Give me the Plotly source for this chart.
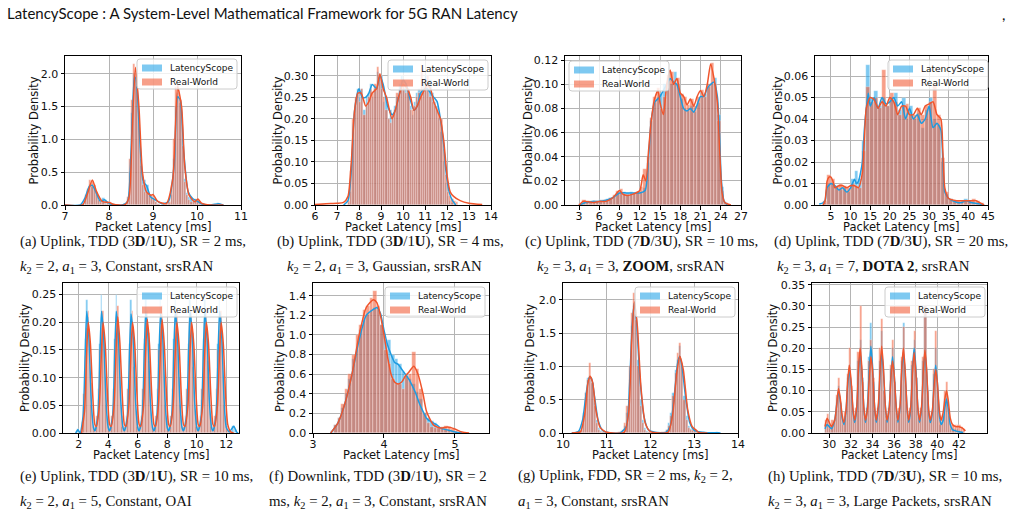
import plotly.graph_objects as go

W, H = 1012, 517

# ---------------- data ----------------
# (a)
A_BIN_START, A_BIN_W = 7.40, 0.05
A_LS = [0.02,0.1,0.22,0.3,0.28,0.25,0.15,0.08,0.05,0.1,
        0.07,0.03,0.02,0.0,0,0,0,0,0,0.01,
        0.08,0.5,1.4,2.0,1.9,1.3,0.6,0.35,0.38,0.3,
        0.15,0.12,0.08,0.04,0.02,0,0,0,0.01,0.02,
        0.15,0.7,1.5,1.7,1.55,1.0,0.4,0.18,0.12,0.1,
        0.06,0.07,0.04,0.02,0.01,0,0,0,0,0,
        0,0.03,0.01,0]
A_RW = [0.0,0.15,0.25,0.38,0.36,0.3,0.2,0.08,0.04,0.03,
        0.02,0.05,0.04,0.01,0,0,0,0,0,0.02,
        0.12,0.7,1.6,2.15,2.0,1.4,0.7,0.3,0.2,0.18,
        0.16,0.15,0.1,0.05,0.02,0,0,0,0.01,0.05,
        0.3,1.0,1.8,1.85,1.6,0.9,0.35,0.15,0.07,0.04,
        0.05,0.09,0.08,0.03,0.01,0,0,0,0,0,
        0,0,0.01,0]
A_LS_KX = [7.0,7.35,7.45,7.55,7.62,7.7,7.8,7.9,7.95,8.05,8.3,8.42,8.5,8.58,8.62,8.7,8.78,8.85,8.95,9.05,
           9.2,9.35,9.48,9.56,9.62,9.7,9.8,9.9,10.0,10.1,10.3,10.5,10.6]
A_LS_KY = [0,0,0.1,0.28,0.3,0.2,0.06,0.08,0.05,0.01,0,0.05,0.8,1.95,1.9,1.0,0.35,0.3,0.12,0.08,
           0.02,0.05,0.6,1.65,1.6,0.8,0.2,0.1,0.06,0.02,0,0.02,0]
A_RW_KX = [7.0,7.4,7.5,7.62,7.72,7.85,8.0,8.1,8.35,8.45,8.53,8.6,8.68,8.76,8.85,8.95,9.0,9.1,9.3,9.45,
           9.56,9.65,9.72,9.82,9.95,10.02,10.1,10.3,10.6]
A_RW_KY = [0,0,0.15,0.38,0.2,0.05,0.04,0.01,0,0.1,1.2,2.1,1.5,0.5,0.2,0.15,0.16,0.06,0.02,0.4,
           1.8,1.5,0.6,0.15,0.05,0.09,0.03,0,0]
A_XTICKS = [7, 8, 9, 10, 11]
A_YTICKS = [0.0, 0.5, 1.0, 1.5, 2.0]

# (b)
B_BIN_START, B_BIN_W = 7.5, 0.1
B_LS = [0.005,0.03,0.15,0.24,0.27,0.25,0.27,0.22,0.25,0.26,
        0.28,0.25,0.27,0.31,0.29,0.3,0.24,0.25,0.2,0.22,
        0.21,0.23,0.25,0.28,0.3,0.27,0.28,0.26,0.23,0.21,
        0.24,0.26,0.27,0.25,0.28,0.3,0.27,0.29,0.26,0.24,
        0.23,0.2,0.17,0.1,0.05,0.02,0.01,0.005,0,0]
B_RW = [0.01,0.08,0.2,0.25,0.26,0.24,0.27,0.21,0.23,0.25,
        0.27,0.26,0.28,0.32,0.3,0.27,0.25,0.22,0.2,0.19,
        0.21,0.22,0.26,0.27,0.29,0.28,0.26,0.27,0.22,0.22,
        0.23,0.25,0.26,0.31,0.27,0.29,0.3,0.25,0.24,0.23,
        0.22,0.21,0.2,0.13,0.07,0.03,0.02,0.015,0.01,0.008]
B_LS_KX = [7.3,7.5,7.65,7.8,8.0,8.15,8.3,8.45,8.6,8.8,8.95,9.1,9.3,9.5,9.65,9.8,10.0,10.15,10.3,10.5,
           10.65,10.8,11.0,11.1,11.25,11.4,11.55,11.7,11.85,11.95,12.1,12.25,12.4]
B_LS_KY = [0,0.01,0.08,0.22,0.27,0.25,0.25,0.26,0.28,0.27,0.3,0.28,0.23,0.21,0.22,0.25,0.29,0.28,0.25,0.22,
           0.23,0.26,0.27,0.27,0.26,0.25,0.24,0.2,0.14,0.08,0.03,0.01,0.0]
B_RW_KX = [6.0,6.5,7.0,7.3,7.5,7.65,7.8,7.95,8.1,8.3,8.45,8.6,8.8,8.95,9.1,9.25,9.5,9.65,9.8,10.0,
           10.2,10.35,10.5,10.65,10.8,11.0,11.1,11.25,11.4,11.55,11.7,11.85,12.0,12.15,12.3,12.6,13.0,13.6]
B_RW_KY = [0.001,0.003,0.004,0.006,0.02,0.1,0.22,0.26,0.26,0.23,0.24,0.26,0.27,0.305,0.27,0.25,0.2,0.22,0.25,0.28,
           0.27,0.25,0.22,0.23,0.25,0.27,0.28,0.27,0.24,0.22,0.2,0.15,0.07,0.03,0.02,0.01,0.004,0.001]
B_XTICKS = [6, 7, 8, 9, 10, 11, 12, 13, 14]
B_YTICKS = [0.0, 0.05, 0.10, 0.15, 0.20, 0.25, 0.30]

# (c)
C_BIN_START, C_BIN_W = 3.0, 0.5
C_LS = [0.001,0.002,0.003,0.003,0.002,0.003,0.004,0.004,0.005,0.006,
        0.007,0.01,0.01,0.011,0.01,0.011,0.01,0.011,0.01,0.014,
        0.035,0.07,0.085,0.09,0.092,0.1,0.105,0.1,0.11,0.1,
        0.088,0.08,0.078,0.082,0.077,0.085,0.09,0.092,0.098,0.1,
        0.105,0.075,0.015,0.002]
C_RW = [0.001,0.004,0.003,0.002,0.003,0.003,0.003,0.004,0.004,0.006,
        0.008,0.012,0.013,0.009,0.008,0.009,0.01,0.011,0.015,0.03,
        0.04,0.072,0.09,0.097,0.08,0.09,0.108,0.11,0.1,0.105,
        0.092,0.09,0.083,0.088,0.082,0.09,0.095,0.09,0.1,0.118,
        0.1,0.07,0.012,0.002]
C_LS_KX = [3.0,4.0,5.0,6.0,7.0,8.0,9.0,10.0,11.0,12.0,12.8,13.3,13.7,14.2,15.0,15.5,16.0,16.5,17.0,17.5,
           18.0,18.5,19.0,19.5,20.0,20.5,21.0,21.5,22.0,22.5,23.0,23.5,23.8,24.1,24.5,25.0]
C_LS_KY = [0,0.002,0.003,0.003,0.004,0.006,0.01,0.01,0.01,0.01,0.012,0.04,0.07,0.085,0.09,0.095,0.1,0.105,0.102,0.1,
           0.09,0.08,0.078,0.08,0.077,0.083,0.09,0.09,0.097,0.1,0.102,0.09,0.06,0.02,0.003,0]
C_RW_KX = [3.0,3.6,4.0,5.0,6.0,7.0,8.0,9.0,9.5,10.0,11.0,12.0,12.5,12.9,13.3,13.7,14.2,14.7,15.0,15.5,
           16.0,16.5,17.0,17.5,18.0,18.5,19.0,19.5,20.0,20.5,21.0,21.5,22.0,22.5,23.0,23.5,23.8,24.2,24.6,25.5]
C_RW_KY = [0,0.003,0.003,0.002,0.003,0.003,0.006,0.012,0.009,0.008,0.009,0.012,0.025,0.02,0.045,0.07,0.088,0.095,0.085,0.075,
           0.1,0.112,0.1,0.105,0.093,0.09,0.083,0.088,0.082,0.09,0.095,0.09,0.1,0.117,0.105,0.085,0.05,0.01,0.002,0]
C_XTICKS = [3, 6, 9, 12, 15, 18, 21, 24, 27]
C_YTICKS = [0.0, 0.02, 0.04, 0.06, 0.08, 0.10, 0.12]

# (d)
D_BIN_START, D_BIN_W = 3.0, 1.0
D_LS = [0.001,0.01,0.01,0.009,0.007,0.008,0.006,0.012,0.016,0.012,
        0.03,0.065,0.05,0.053,0.046,0.05,0.046,0.05,0.052,0.044,
        0.05,0.04,0.046,0.04,0.043,0.036,0.044,0.05,0.04,0.037,
        0.02,0.005,0.003,0.002,0.001,0.001,0.003,0.002,0.001,0.001,
        0.0005]
D_RW = [0.002,0.014,0.012,0.009,0.01,0.009,0.008,0.01,0.009,0.008,
        0.025,0.055,0.048,0.05,0.045,0.063,0.046,0.052,0.048,0.042,
        0.046,0.047,0.042,0.042,0.045,0.042,0.046,0.048,0.056,0.042,
        0.022,0.006,0.003,0.002,0.002,0.002,0.002,0.002,0.003,0.002,
        0.001]
D_LS_KX = [2.0,3.0,3.5,4.0,5.0,6.0,7.0,8.0,9.0,10.0,11.0,11.5,12.0,13.0,13.5,14.0,14.5,15.0,16.0,17.0,
           18.0,19.0,20.0,21.0,22.0,23.0,24.0,25.0,26.0,27.0,28.0,29.0,30.0,31.0,32.0,33.0,33.5,34.0,35.0,36.0,
           38.0,39.5,41.0,43.0,44.0]
D_LS_KY = [0.0005,0.001,0.002,0.008,0.01,0.009,0.007,0.008,0.006,0.008,0.012,0.01,0.011,0.02,0.035,0.045,0.052,0.046,0.05,0.045,
           0.05,0.047,0.048,0.05,0.046,0.048,0.04,0.045,0.04,0.042,0.038,0.04,0.046,0.036,0.038,0.035,0.02,0.006,0.003,0.002,
           0.001,0.002,0.001,0.0005,0]
D_RW_KX = [3.0,3.5,4.0,4.5,5.0,5.5,6.0,7.0,8.0,9.0,10.0,11.0,12.0,13.0,13.5,14.0,15.0,16.0,17.0,18.0,
           19.0,20.0,21.0,22.0,23.0,24.0,25.0,26.0,27.0,28.0,29.0,30.0,31.0,32.0,33.0,33.5,34.0,35.0,37.0,39.0,
           41.0,42.0,43.0,44.0]
D_RW_KY = [0.0,0.002,0.011,0.013,0.013,0.011,0.008,0.009,0.009,0.008,0.009,0.009,0.008,0.015,0.03,0.045,0.05,0.049,0.045,0.048,
           0.046,0.05,0.048,0.042,0.046,0.046,0.042,0.042,0.045,0.042,0.046,0.047,0.048,0.042,0.04,0.025,0.008,0.003,0.002,0.002,
           0.002,0.002,0.001,0]
D_XTICKS = [5, 10, 15, 20, 25, 30, 35, 40, 45]
D_YTICKS = [0.0, 0.01, 0.02, 0.03, 0.04, 0.05, 0.06]

# (e)
E_BIN_START, E_BIN_W = 1.9, 0.1
E_LS = [0.008,
        0.002,0.0,0.01,0.05,0.17,0.24,0.21,0.12,0.05,0.01,
        0.004,0.002,0.01,0.06,0.16,0.25,0.2,0.13,0.05,0.01,
        0.003,0.002,0.01,0.05,0.17,0.25,0.19,0.12,0.06,0.01,
        0.004,0.001,0.01,0.05,0.16,0.24,0.2,0.12,0.05,0.01,
        0.003,0.002,0.01,0.06,0.17,0.24,0.19,0.13,0.05,0.01,
        0.004,0.002,0.01,0.05,0.16,0.24,0.2,0.12,0.05,0.01,
        0.003,0.002,0.01,0.05,0.17,0.25,0.2,0.12,0.05,0.01,
        0.004,0.002,0.01,0.05,0.16,0.24,0.21,0.12,0.05,0.01,
        0.003,0.002,0.01,0.06,0.17,0.24,0.2,0.13,0.05,0.01,
        0.004,0.002,0.01,0.05,0.16,0.24,0.21,0.12,0.05,0.01,
        0.003,0.001,0.002,0.004,0.012,0.013,0.005]
E_RW = [0.0,
        0.0,0.0,0.02,0.07,0.14,0.19,0.22,0.17,0.09,0.03,
        0.012,0.01,0.03,0.08,0.15,0.2,0.22,0.18,0.1,0.03,
        0.012,0.012,0.03,0.08,0.15,0.21,0.23,0.18,0.1,0.03,
        0.012,0.01,0.03,0.08,0.15,0.2,0.22,0.17,0.1,0.03,
        0.012,0.012,0.03,0.08,0.16,0.2,0.22,0.18,0.1,0.03,
        0.012,0.01,0.03,0.08,0.15,0.2,0.23,0.18,0.1,0.03,
        0.012,0.012,0.03,0.08,0.15,0.21,0.22,0.17,0.1,0.03,
        0.012,0.01,0.03,0.08,0.15,0.2,0.22,0.18,0.1,0.03,
        0.012,0.012,0.03,0.08,0.15,0.2,0.22,0.17,0.1,0.03,
        0.012,0.01,0.03,0.08,0.15,0.2,0.22,0.18,0.1,0.03,
        0.012,0.005,0.002,0,0,0,0]
E_LS_KX = [1.8,1.95,2.1,2.3,2.45,2.55,2.7,2.85,3.0,3.1,
           3.3,3.45,3.55,3.7,3.85,4.0,4.1,
           4.3,4.45,4.55,4.7,4.85,5.0,5.1,
           5.3,5.45,5.55,5.7,5.85,6.0,6.1,
           6.3,6.45,6.55,6.7,6.85,7.0,7.1,
           7.3,7.45,7.55,7.7,7.85,8.0,8.1,
           8.3,8.45,8.55,8.7,8.85,9.0,9.1,
           9.3,9.45,9.55,9.7,9.85,10.0,10.1,
           10.3,10.45,10.55,10.7,10.85,11.0,11.1,
           11.3,11.45,11.55,11.7,11.85,12.0,12.2,12.5,12.7,12.8]
E_LS_KY = [0,0.006,0.0,0.03,0.15,0.22,0.17,0.06,0.01,0.004,
           0.03,0.15,0.22,0.17,0.06,0.01,0.004,
           0.03,0.15,0.22,0.17,0.06,0.01,0.004,
           0.03,0.15,0.215,0.17,0.06,0.01,0.004,
           0.03,0.15,0.22,0.17,0.06,0.01,0.004,
           0.03,0.15,0.215,0.17,0.06,0.01,0.004,
           0.03,0.15,0.22,0.17,0.06,0.01,0.004,
           0.03,0.15,0.22,0.17,0.06,0.01,0.004,
           0.03,0.15,0.22,0.17,0.06,0.01,0.004,
           0.03,0.15,0.22,0.17,0.06,0.01,0.002,0.012,0.002,0]
E_RW_KX = [2.2,2.4,2.55,2.65,2.8,2.95,3.1,3.2,
           3.4,3.55,3.65,3.8,3.95,4.1,4.2,
           4.4,4.55,4.65,4.8,4.95,5.1,5.2,
           5.4,5.55,5.65,5.8,5.95,6.1,6.2,
           6.4,6.55,6.65,6.8,6.95,7.1,7.2,
           7.4,7.55,7.65,7.8,7.95,8.1,8.2,
           8.4,8.55,8.65,8.8,8.95,9.1,9.2,
           9.4,9.55,9.65,9.8,9.95,10.1,10.2,
           10.4,10.55,10.65,10.8,10.95,11.1,11.2,
           11.4,11.55,11.65,11.8,11.95,12.1,12.3,12.5]
E_RW_KY = [0,0.04,0.15,0.2,0.16,0.07,0.015,0.012,
           0.05,0.15,0.2,0.16,0.07,0.015,0.012,
           0.05,0.16,0.21,0.16,0.07,0.015,0.012,
           0.05,0.15,0.2,0.16,0.07,0.015,0.012,
           0.05,0.155,0.205,0.16,0.07,0.015,0.012,
           0.05,0.155,0.205,0.16,0.07,0.015,0.012,
           0.05,0.15,0.2,0.16,0.07,0.015,0.012,
           0.05,0.15,0.2,0.16,0.07,0.015,0.012,
           0.05,0.15,0.2,0.16,0.07,0.015,0.012,
           0.05,0.15,0.2,0.16,0.07,0.015,0.002,0]
E_XTICKS = [2, 4, 6, 8, 10, 12]
E_YTICKS = [0.0, 0.05, 0.10, 0.15, 0.20, 0.25]

# (f)
F_BIN_START, F_BIN_W = 3.25, 0.05
F_LS = [0.02,0.08,0.15,0.25,0.4,0.55,0.75,0.85,1.05,1.15,
        1.2,1.25,1.27,1.25,1.1,0.95,0.95,0.8,0.75,0.7,
        0.62,0.6,0.55,0.5,0.42,0.35,0.2,0.15,0.12,0.1,
        0.05,0.04,0.03,0.02,0.01,0.005,0.0]
F_RW = [0.0,0.08,0.15,0.3,0.45,0.6,0.8,1.0,1.1,1.25,
        1.3,1.38,1.45,1.3,1.1,0.85,0.7,0.55,0.5,0.5,
        0.45,0.58,0.6,0.83,0.65,0.45,0.2,0.1,0.06,0.05,
        0.05,0.06,0.07,0.06,0.04,0.02,0.01]
F_LS_KX = [3.25,3.35,3.45,3.55,3.65,3.75,3.85,3.9,3.95,4.0,4.05,4.1,4.15,4.2,4.25,4.3,4.35,4.4,4.45,4.5,
           4.55,4.6,4.65,4.7,4.75,4.8,4.9,5.0,5.1]
F_LS_KY = [0,0.1,0.3,0.6,0.95,1.2,1.26,1.28,1.22,1.05,0.9,0.8,0.72,0.7,0.65,0.6,0.55,0.48,0.4,0.3,
           0.22,0.15,0.12,0.1,0.08,0.05,0.03,0.01,0]
F_RW_KX = [3.25,3.35,3.45,3.55,3.65,3.75,3.85,3.9,3.95,4.0,4.05,4.1,4.15,4.2,4.25,4.3,4.35,4.42,4.48,4.55,
           4.6,4.7,4.8,4.9,5.0,5.1,5.2]
F_RW_KY = [0,0.1,0.3,0.6,1.0,1.28,1.36,1.33,1.2,1.0,0.78,0.6,0.52,0.5,0.52,0.58,0.62,0.68,0.6,0.4,
           0.22,0.08,0.05,0.06,0.04,0.01,0]
F_XTICKS = [3, 4, 5]
F_YTICKS = [0.0, 0.2, 0.4, 0.6, 0.8, 1.0, 1.2, 1.4]

# (g)
G_BIN_START, G_BIN_W = 10.2, 0.05
G_LS = [0,0,0.01,0.03,0.1,0.3,0.6,0.83,0.85,0.75,0.45,0.2,0.08,0.03,0.01,0.005,
        0,0,0,0,0,0,0.01,0.03,0.1,0.3,0.8,1.6,1.9,1.75,1.1,0.5,0.2,0.07,0.03,0.01,
        0,0,0,0,0,0.005,0.01,0.05,0.15,0.3,0.6,0.95,1.1,1.3,1.05,0.55,0.25,0.1,0.06,0.03,
        0.02,0.01,0.005,0.003,0.01,0,0,0,0,0,0.01,0]
G_RW = [0,0,0,0.01,0.05,0.25,0.6,0.8,1.05,0.75,0.4,0.15,0.05,0.02,0.01,0,
        0,0,0,0,0,0.01,0.02,0.05,0.15,0.4,1.0,1.8,2.1,1.7,1.0,0.4,0.15,0.05,0.02,0.01,
        0,0,0,0,0,0.01,0.02,0.05,0.1,0.25,0.55,0.9,1.2,1.35,1.0,0.5,0.2,0.08,0.05,0.04,
        0.03,0.01,0,0,0,0,0,0,0,0,0,0]
G_LS_KX = [10.2,10.35,10.45,10.52,10.6,10.65,10.72,10.8,10.9,11.0,11.3,11.45,11.52,11.58,11.63,11.68,11.75,11.85,11.95,12.1,
           12.35,12.45,12.55,12.62,12.67,12.72,12.8,12.9,13.0,13.1,13.3,13.55,13.6]
G_LS_KY = [0,0.02,0.2,0.55,0.83,0.82,0.55,0.2,0.04,0.01,0,0.1,0.7,1.6,1.95,1.7,0.9,0.25,0.05,0.01,
           0.01,0.1,0.6,1.05,1.15,1.0,0.55,0.15,0.04,0.02,0.005,0.003,0]
G_RW_KX = [10.2,10.4,10.5,10.57,10.62,10.68,10.75,10.85,11.0,11.4,11.5,11.57,11.63,11.7,11.78,11.88,12.0,12.4,12.5,12.6,
           12.67,12.75,12.85,12.95,13.05,13.1,13.3]
G_RW_KY = [0,0.02,0.3,0.75,0.85,0.75,0.35,0.08,0.01,0.01,0.3,1.4,1.97,1.6,0.7,0.15,0.02,0.01,0.25,0.9,
           1.15,0.95,0.35,0.1,0.04,0.01,0]
G_XTICKS = [10, 11, 12, 13, 14]
G_YTICKS = [0.0, 0.5, 1.0, 1.5, 2.0]

# (h)
H_BIN_START, H_BIN_W = 29.6, 0.2
H_LS = [0.02,0.03,
        0.01,0.02,0.03,0.07,0.11,
        0.06,0.02,0.04,0.13,0.16,
        0.1,0.03,0.05,0.17,0.22,
        0.13,0.03,0.05,0.18,0.26,
        0.12,0.03,0.05,0.17,0.24,
        0.1,0.03,0.05,0.15,0.2,
        0.12,0.03,0.05,0.17,0.26,
        0.1,0.03,0.05,0.16,0.22,
        0.13,0.03,0.05,0.17,0.3,
        0.1,0.03,0.04,0.14,0.2,
        0.09,0.02,0.03,0.08,0.1,
        0.04,0.01,0.01,0.01,0.01,
        0.005,0.003,0.0]
H_RW = [0.03,0.045,
        0.02,0.03,0.03,0.09,0.13,
        0.07,0.03,0.05,0.14,0.2,
        0.11,0.04,0.06,0.19,0.3,
        0.12,0.04,0.06,0.17,0.22,
        0.13,0.04,0.06,0.2,0.27,
        0.1,0.04,0.06,0.16,0.22,
        0.12,0.04,0.06,0.18,0.25,
        0.1,0.04,0.06,0.17,0.24,
        0.13,0.04,0.06,0.18,0.3,
        0.1,0.04,0.05,0.15,0.24,
        0.09,0.03,0.04,0.1,0.12,
        0.05,0.02,0.02,0.02,0.02,
        0.02,0.015,0.01]
H_LS_KX = [29.6,29.8,30.0,30.2,30.5,30.7,30.85,31.0,31.2,
           31.35,31.55,31.7,31.85,32.0,32.2,
           32.35,32.55,32.7,32.85,33.0,33.2,
           33.35,33.55,33.7,33.85,34.0,34.2,
           34.35,34.55,34.7,34.85,35.0,35.2,
           35.35,35.55,35.7,35.85,36.0,36.2,
           36.35,36.55,36.7,36.85,37.0,37.2,
           37.35,37.55,37.7,37.85,38.0,38.2,
           38.35,38.55,38.7,38.85,39.0,39.2,
           39.35,39.55,39.7,39.85,40.0,40.2,
           40.35,40.55,40.7,40.85,41.0,41.2,41.4,41.7,42.0,42.4]
H_LS_KY = [0.01,0.02,0.015,0.01,0.03,0.07,0.1,0.08,0.035,
           0.02,0.05,0.11,0.15,0.12,0.05,
           0.025,0.06,0.14,0.19,0.15,0.06,
           0.025,0.07,0.15,0.205,0.16,0.06,
           0.025,0.06,0.14,0.19,0.15,0.06,
           0.025,0.06,0.13,0.18,0.14,0.06,
           0.025,0.06,0.14,0.19,0.15,0.06,
           0.025,0.06,0.15,0.2,0.16,0.06,
           0.025,0.06,0.14,0.19,0.15,0.05,
           0.025,0.05,0.12,0.16,0.12,0.04,
           0.02,0.03,0.06,0.08,0.06,0.02,0.008,0.005,0.003,0.001]
H_RW_KX = [29.6,29.8,30.0,30.2,30.5,30.7,30.85,31.0,31.2,
           31.35,31.55,31.7,31.85,32.0,32.2,
           32.35,32.55,32.7,32.85,33.0,33.2,
           33.35,33.55,33.7,33.85,34.0,34.2,
           34.35,34.55,34.7,34.85,35.0,35.2,
           35.35,35.55,35.7,35.85,36.0,36.2,
           36.35,36.55,36.7,36.85,37.0,37.2,
           37.35,37.55,37.7,37.85,38.0,38.2,
           38.35,38.55,38.7,38.85,39.0,39.2,
           39.35,39.55,39.7,39.85,40.0,40.2,
           40.35,40.55,40.7,40.85,41.0,41.2,41.4,41.7,42.0,42.3,42.6]
H_RW_KY = [0.015,0.035,0.025,0.015,0.03,0.07,0.105,0.085,0.04,
           0.025,0.055,0.12,0.16,0.13,0.055,
           0.03,0.065,0.15,0.2,0.16,0.06,
           0.03,0.06,0.13,0.18,0.15,0.06,
           0.03,0.07,0.15,0.205,0.16,0.06,
           0.03,0.06,0.13,0.17,0.14,0.06,
           0.03,0.065,0.15,0.2,0.16,0.06,
           0.03,0.065,0.14,0.19,0.15,0.06,
           0.03,0.065,0.145,0.195,0.155,0.055,
           0.03,0.055,0.11,0.15,0.12,0.05,
           0.03,0.05,0.08,0.1,0.08,0.035,0.02,0.015,0.015,0.012,0.005]
H_XTICKS = [30, 32, 34, 36, 38, 40, 42]
H_YTICKS = [0.0, 0.05, 0.10, 0.15, 0.20, 0.25, 0.30, 0.35]

SERIES = ["LatencyScope", "Real-World"]
CAPTIONS = [
    ("(a) Uplink, TDD (3<b>D</b>/1<b>U</b>), SR = 2 ms,", "<i>k</i><sub>2</sub> = 2, <i>a</i><sub>1</sub> = 3, Constant, srsRAN"),
    ("(b) Uplink, TDD (3<b>D</b>/1<b>U</b>), SR = 4 ms,", "<i>k</i><sub>2</sub> = 2, <i>a</i><sub>1</sub> = 3, Gaussian, srsRAN"),
    ("(c) Uplink, TDD (7<b>D</b>/3<b>U</b>), SR = 10 ms,", "<i>k</i><sub>2</sub> = 3, <i>a</i><sub>1</sub> = 3, <b>ZOOM</b>, srsRAN"),
    ("(d) Uplink, TDD (7<b>D</b>/3<b>U</b>), SR = 20 ms,", "<i>k</i><sub>2</sub> = 3, <i>a</i><sub>1</sub> = 7, <b>DOTA 2</b>, srsRAN"),
    ("(e) Uplink, TDD (3<b>D</b>/1<b>U</b>), SR = 10 ms,", "<i>k</i><sub>2</sub> = 2, <i>a</i><sub>1</sub> = 5, Constant, OAI"),
    ("(f) Downlink, TDD (3<b>D</b>/1<b>U</b>), SR = 2", "ms, <i>k</i><sub>2</sub> = 2, <i>a</i><sub>1</sub> = 3, Constant, srsRAN"),
    ("(g) Uplink, FDD, SR = 2 ms, <i>k</i><sub>2</sub> = 2,", "<i>a</i><sub>1</sub> = 3, Constant, srsRAN"),
    ("(h) Uplink, TDD (7<b>D</b>/3<b>U</b>), SR = 10 ms,", "<i>k</i><sub>2</sub> = 3, <i>a</i><sub>1</sub> = 3, Large Packets, srsRAN"),
]
HEADER = "LatencyScope : A System-Level Mathematical Framework for 5G RAN Latency"
XTITLE = "Packet Latency [ms]"
YTITLE = "Probability Density"

# ---------------- layout (pixels) ----------------
def px(x): return x / W
def py(y): return 1 - y / H

panels = [
    dict(box=(65, 241, 56, 205), xr=[7, 11], yr=[0, 2.27], xt=A_XTICKS, yt=A_YTICKS, yf=".1f",
         bs=A_BIN_START, bw=A_BIN_W, ls=A_LS, rw=A_RW, lkx=A_LS_KX, lky=A_LS_KY, rkx=A_RW_KX, rky=A_RW_KY,
         leg=(137, 59), yt_x=33, cap=(18, 18)),
    dict(box=(315, 491, 56, 205), xr=[6, 14], yr=[0, 0.346], xt=B_XTICKS, yt=B_YTICKS, yf=".2f",
         bs=B_BIN_START, bw=B_BIN_W, ls=B_LS, rw=B_RW, lkx=B_LS_KX, lky=B_LS_KY, rkx=B_RW_KX, rky=B_RW_KY,
         leg=(388, 60), yt_x=277, cap=(275, 285)),
    dict(box=(565, 741, 56, 205), xr=[0.92, 27], yr=[0, 0.1236], xt=C_XTICKS, yt=C_YTICKS, yf=".2f",
         bs=C_BIN_START, bw=C_BIN_W, ls=C_LS, rw=C_RW, lkx=C_LS_KX, lky=C_LS_KY, rkx=C_RW_KX, rky=C_RW_KY,
         leg=(569, 61), yt_x=527, cap=(523, 535)),
    dict(box=(815, 988, 56, 205), xr=[0.93, 45], yr=[0, 0.0693], xt=D_XTICKS, yt=D_YTICKS, yf=".2f",
         bs=D_BIN_START, bw=D_BIN_W, ls=D_LS, rw=D_RW, lkx=D_LS_KX, lky=D_LS_KY, rkx=D_RW_KX, rky=D_RW_KY,
         leg=(888, 60), yt_x=777, cap=(772, 775)),
    dict(box=(63, 239, 283, 433), xr=[0.94, 12.86], yr=[0, 0.271], xt=E_XTICKS, yt=E_YTICKS, yf=".2f",
         bs=E_BIN_START, bw=E_BIN_W, ls=E_LS, rw=E_RW, lkx=E_LS_KX, lky=E_LS_KY, rkx=E_RW_KX, rky=E_RW_KY,
         leg=(137, 287), yt_x=25, cap=(18, 18)),
    dict(box=(313, 489, 283, 433), xr=[3, 5.48], yr=[0, 1.53], xt=F_XTICKS, yt=F_YTICKS, yf=".1f",
         bs=F_BIN_START, bw=F_BIN_W, ls=F_LS, rw=F_RW, lkx=F_LS_KX, lky=F_LS_KY, rkx=F_RW_KX, rky=F_RW_KY,
         leg=(385, 287), yt_x=280, cap=(267, 267)),
    dict(box=(563, 738, 283, 433), xr=[10, 14], yr=[0, 2.25], xt=G_XTICKS, yt=G_YTICKS, yf=".1f",
         bs=G_BIN_START, bw=G_BIN_W, ls=G_LS, rw=G_RW, lkx=G_LS_KX, lky=G_LS_KY, rkx=G_RW_KX, rky=G_RW_KY,
         leg=(635, 287), yt_x=530, cap=(516, 516)),
    dict(box=(812, 987, 283, 433), xr=[28.4, 44.6], yr=[0, 0.354], xt=H_XTICKS, yt=H_YTICKS, yf=".2f",
         bs=H_BIN_START, bw=H_BIN_W, ls=H_LS, rw=H_RW, lkx=H_LS_KX, lky=H_LS_KY, rkx=H_RW_KX, rky=H_RW_KY,
         leg=(885, 287), yt_x=773, cap=(766, 766)),
]

LS_FILL = "rgba(40,165,232,0.6)"
RW_FILL = "rgba(242,95,58,0.6)"
LS_LINE = "#1e9be0"
RW_LINE = "#f0552c"
EDGE = dict(color="rgba(255,255,255,0.55)", width=0.5)
TICKFONT = dict(family="DejaVu Sans", size=11, color="#111")
CAPFONT = dict(family="Liberation Serif", size=14.8, color="#111")

fig = go.Figure()
shapes, annos = [], []
layout = {}

for i, p in enumerate(panels):
    assert len(p["ls"]) == len(p["rw"]), i
    assert len(p["lkx"]) == len(p["lky"]) and len(p["rkx"]) == len(p["rky"]), i
    xa = "x" if i == 0 else f"x{i+1}"
    ya = "y" if i == 0 else f"y{i+1}"
    l, r, t, b = p["box"]
    centers = [p["bs"] + p["bw"] * (k + 0.5) for k in range(len(p["ls"]))]
    fig.add_trace(go.Bar(x=centers, y=p["ls"], width=p["bw"], marker=dict(color=LS_FILL, line=EDGE),
                         xaxis=xa, yaxis=ya, showlegend=False, name=SERIES[0]))
    fig.add_trace(go.Bar(x=centers, y=p["rw"], width=p["bw"], marker=dict(color=RW_FILL, line=EDGE),
                         xaxis=xa, yaxis=ya, showlegend=False, name=SERIES[1]))
    fig.add_trace(go.Scatter(x=p["lkx"], y=p["lky"], mode="lines", line=dict(color=LS_LINE, width=1.5, shape="spline", smoothing=0.6),
                             xaxis=xa, yaxis=ya, showlegend=False, name=SERIES[0]))
    fig.add_trace(go.Scatter(x=p["rkx"], y=p["rky"], mode="lines", line=dict(color=RW_LINE, width=1.5, shape="spline", smoothing=0.6),
                             xaxis=xa, yaxis=ya, showlegend=False, name=SERIES[1]))

    common = dict(showline=True, mirror=True, linecolor="black", linewidth=1, ticks="outside", ticklen=3.5,
                  tickwidth=1, tickcolor="black", showgrid=True, gridcolor="#b4b4b4", gridwidth=0.8,
                  zeroline=False, tickfont=TICKFONT, automargin=False, fixedrange=True)
    layout["xaxis" if i == 0 else f"xaxis{i+1}"] = dict(
        common, domain=[px(l), px(r)], range=p["xr"], tickmode="array", tickvals=p["xt"], anchor=ya,
        ticklabelstandoff=-3)
    layout["yaxis" if i == 0 else f"yaxis{i+1}"] = dict(
        common, domain=[py(b), py(t)], range=p["yr"], tickmode="array", tickvals=p["yt"],
        tickformat=p["yf"], anchor=xa)

    # axis titles
    row2 = t > 250
    annos.append(dict(x=px((l + r) / 2), y=py(455 if row2 else 227), xref="paper", yref="paper",
                      text=XTITLE, showarrow=False, xanchor="center", yanchor="middle",
                      font=dict(family="DejaVu Sans", size=11.5, color="#111")))
    annos.append(dict(x=px(p["yt_x"]), y=py((t + b) / 2), xref="paper", yref="paper",
                      text=YTITLE, showarrow=False, textangle=-90, xanchor="center", yanchor="middle",
                      font=dict(family="DejaVu Sans", size=11.5, color="#111")))
    # captions
    c1, c2 = CAPTIONS[i]
    y1, y2 = (476, 502) if row2 else (241, 267)
    annos.append(dict(x=px(p["cap"][0]), y=py(y1), xref="paper", yref="paper", text=c1, showarrow=False,
                      xanchor="left", yanchor="middle", font=CAPFONT))
    annos.append(dict(x=px(p["cap"][1]), y=py(y2), xref="paper", yref="paper", text=c2, showarrow=False,
                      xanchor="left", yanchor="middle", font=CAPFONT))

    # legend (drawn manually, matplotlib-style)
    lx, ly = p["leg"]
    lw, lh, rad = 100, 30, 3
    x0, x1, y0, y1b = px(lx), px(lx + lw), py(ly), py(ly + lh)
    rx, ry = rad / W, rad / H
    path = (f"M {x0+rx},{y0} L {x1-rx},{y0} Q {x1},{y0} {x1},{y0-ry} L {x1},{y1b+ry} Q {x1},{y1b} {x1-rx},{y1b} "
            f"L {x0+rx},{y1b} Q {x0},{y1b} {x0},{y1b+ry} L {x0},{y0-ry} Q {x0},{y0} {x0+rx},{y0} Z")
    shapes.append(dict(type="path", path=path, xref="paper", yref="paper", fillcolor="rgba(255,255,255,0.8)",
                       line=dict(color="#cccccc", width=1), layer="above"))
    for j, (col, name) in enumerate([(LS_FILL, SERIES[0]), (RW_FILL, SERIES[1])]):
        cy = ly + 9 + 14 * j
        shapes.append(dict(type="rect", xref="paper", yref="paper", x0=px(lx + 5), x1=px(lx + 25),
                           y0=py(cy - 3.5), y1=py(cy + 3.5), fillcolor=col, line=dict(width=0), layer="above"))
        annos.append(dict(x=px(lx + 31), y=py(cy), xref="paper", yref="paper", text=name, showarrow=False,
                          xanchor="left", yanchor="middle", font=dict(family="DejaVu Sans", size=9, color="#111")))

annos.append(dict(x=px(5), y=py(13), xref="paper", yref="paper", text=HEADER, showarrow=False,
                  xanchor="left", yanchor="middle", font=dict(family="Lato", size=15, color="#111")))
annos.append(dict(x=px(1000), y=py(14), xref="paper", yref="paper", text=",", showarrow=False,
                  xanchor="left", yanchor="middle", font=dict(family="Lato", size=15, color="#111")))

fig.update_layout(**layout)
fig.update_layout(width=W, height=H, margin=dict(l=0, r=0, t=0, b=0), paper_bgcolor="white",
                  plot_bgcolor="white", barmode="overlay", bargap=0, showlegend=False,
                  shapes=shapes, annotations=annos)
fig.write_html("out.html")
